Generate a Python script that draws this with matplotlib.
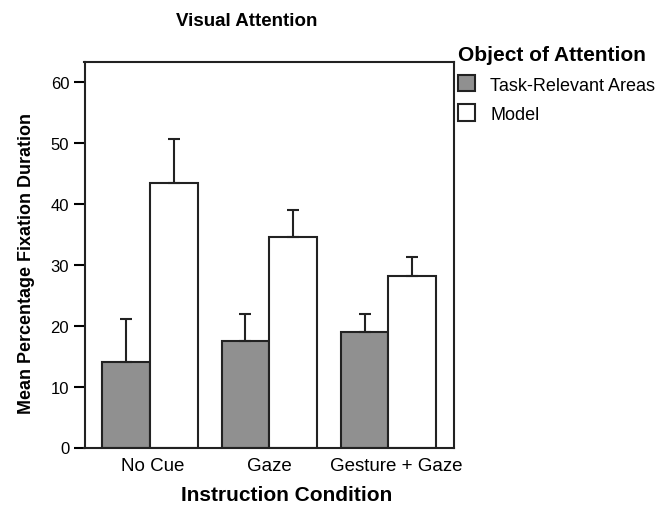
import numpy as np
import matplotlib
matplotlib.use("Agg")
import matplotlib.pyplot as plt
from matplotlib.transforms import ScaledTranslation

# data
conditions = ["No Cue", "Gaze", "Gesture + Gaze"]
series_names = ["Task-Relevant Areas", "Model"]
task_relevant = [14.0, 17.5, 19.0]
task_relevant_err = [7.1, 4.4, 2.9]
model = [43.4, 34.6, 28.2]
model_err = [7.3, 4.4, 3.0]

plt.rcParams["font.family"] = ["Liberation Sans", "DejaVu Sans"]

fig = plt.figure(figsize=(6.65, 5.06), dpi=100)
ax = fig.add_axes([84.5 / 665, 1 - 448.5 / 506, (454 - 84.5) / 665, (448.5 - 63) / 506])

x = np.arange(len(conditions))
w = 0.4
err_kw = dict(elinewidth=1.5, capthick=1.5, ecolor="#222222")
ax.bar(x - w / 2, task_relevant, width=w, color="#909090", edgecolor="#222222",
       linewidth=1.5, yerr=[np.zeros(3), task_relevant_err], capsize=4,
       error_kw=err_kw, label=series_names[0])
ax.bar(x + w / 2, model, width=w, color="white", edgecolor="#222222",
       linewidth=1.5, yerr=[np.zeros(3), model_err], capsize=4,
       error_kw=err_kw, label=series_names[1])

ax.set_xlim(-0.55, 2.55)
ax.set_ylim(0, 63.3)
ax.set_yticks(range(0, 61, 10))
ax.set_xticks(x)
ax.set_xticklabels(conditions, fontsize=13.5)
ax.tick_params(axis="x", length=0, pad=7)
ax.tick_params(axis="y", length=8, width=1.5, labelsize=12, pad=3)
for s in ax.spines.values():
    s.set_linewidth(1.5)
    s.set_color("#222222")

# the original labels sit a bit right of the group centres
for lab, dx in zip(ax.get_xticklabels(), [3, 0, 8]):
    lab.set_transform(lab.get_transform() + ScaledTranslation(dx / 100, 0, fig.dpi_scale_trans))

ax.set_ylabel("Mean Percentage Fixation Duration", fontsize=12.9, fontweight="bold")
ax.yaxis.set_label_coords(-0.135, 0.481)
ax.set_xlabel("Instruction Condition", fontsize=15, fontweight="bold")
ax.xaxis.set_label_coords(0.547, -0.098)
fig.text(247 / 665, 1 - 22 / 506, "Visual Attention", fontsize=13.5, fontweight="bold",
         ha="center", va="center")

leg = fig.legend(loc="upper left", bbox_to_anchor=(458 / 665, 1 - 46.5 / 506), frameon=False,
                 title="Object of Attention", fontsize=13, handlelength=0.95,
                 handleheight=1.0, handletextpad=0.85, borderpad=0, borderaxespad=0,
                 labelspacing=0.6,
                 title_fontproperties={"weight": "bold", "size": 15})
leg._legend_box.align = "left"
for p in leg.get_patches():
    p.set_linewidth(1.5)

fig.savefig("out.png", dpi=100)
